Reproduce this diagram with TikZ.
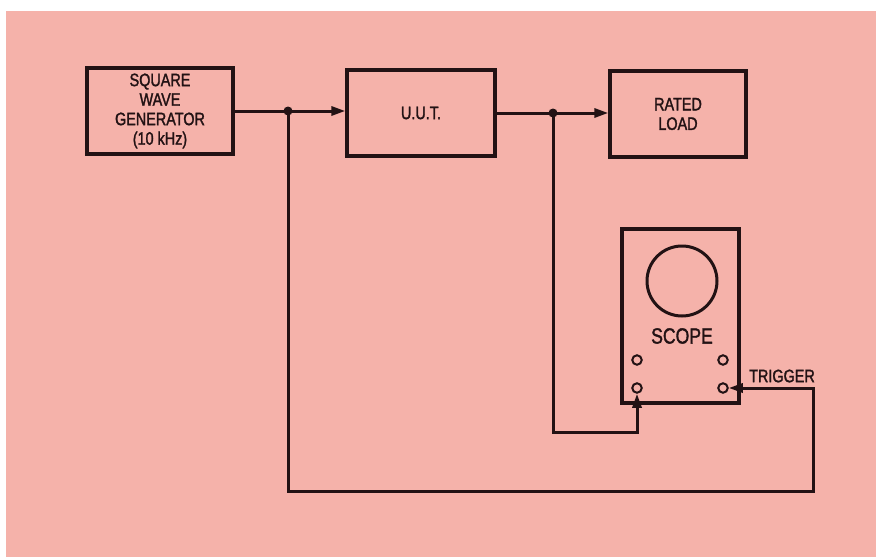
\documentclass[tikz,border=0pt]{standalone}
\usepackage{fontspec}
\setmainfont{Liberation Sans}[FakeStretch=0.8,FakeBold=1.6]
\usetikzlibrary{arrows.meta}
\definecolor{bgpink}{RGB}{245,178,170}
\definecolor{ink}{RGB}{34,18,20}
\tikzset{
  blk/.style={draw=ink, line width=3.3pt, minimum width=146pt, minimum height=86pt, align=center, text=ink,
    font=\fontsize{18}{19.5}\selectfont},
  wire/.style={draw=ink, line width=3pt},
  arr/.style={-{Triangle[length=14pt,width=9pt]}},
  term/.style={circle, draw=ink, line width=2pt, minimum size=9.5pt, inner sep=0pt},
  dot/.style={circle, fill=ink, minimum size=9pt, inner sep=0pt},
  lbl/.style={text=ink, font=\fontsize{18}{19.5}\selectfont, inner sep=0pt}
}
\begin{document}
\begin{tikzpicture}[x=1pt,y=-1pt]
\useasboundingbox (0,0) rectangle (876,557);
\fill[white] (0,0) rectangle (876,557);
\fill[bgpink] (6,11) rectangle (876,557);

\node[blk] (swg) at (160,111) {SQUARE\\WAVE\\GENERATOR\\(10 kHz)};
\node[blk, minimum width=148pt] (uut) at (421,113) {U.U.T.};
\node[blk, minimum width=136pt] (load) at (678,114) {RATED\\LOAD};

\node[draw=ink, line width=3.3pt, minimum width=117pt, minimum height=174pt, inner sep=0pt] (scope) at (680.5,316) {};
\node[circle, draw=ink, line width=3pt, minimum size=70pt, inner sep=0pt] (screen) at (682,281) {};
\node[lbl] (scopelbl) at (682,336) {\fontsize{22}{24}\selectfont SCOPE};
\node[term] (t1) at (637,360) {};
\node[term] (t2) at (723,360) {};
\node[term] (t3) at (637,388) {};
\node[term] (t4) at (723,388) {};
\node[lbl, anchor=west] (trig) at (749,376) {TRIGGER};

\coordinate (j1) at (288,111);
\coordinate (j2) at (553,113);
\coordinate (c1) at (553,432);
\coordinate (c2) at (637,432);
\coordinate (c3) at (813,388);
\coordinate (c4) at (813,491);
\coordinate (c5) at (288,491);

\draw[wire] (swg.east |- j1) -- (j1);
\draw[wire, arr] (j1) -- (uut.west |- j1);
\draw[wire] (uut.east |- j2) -- (j2);
\draw[wire, arr] (j2) -- (load.west |- j2);
\node[dot] (d1) at (j1) {};
\node[dot] (d2) at (j2) {};

\draw[wire, arr] (j2) -- (c1) -- (c2) -- (t3.south);
\draw[wire, arr] (j1) -- (c5) -- (c4) -- (c3) -- (t4.east);
\end{tikzpicture}
\end{document}
